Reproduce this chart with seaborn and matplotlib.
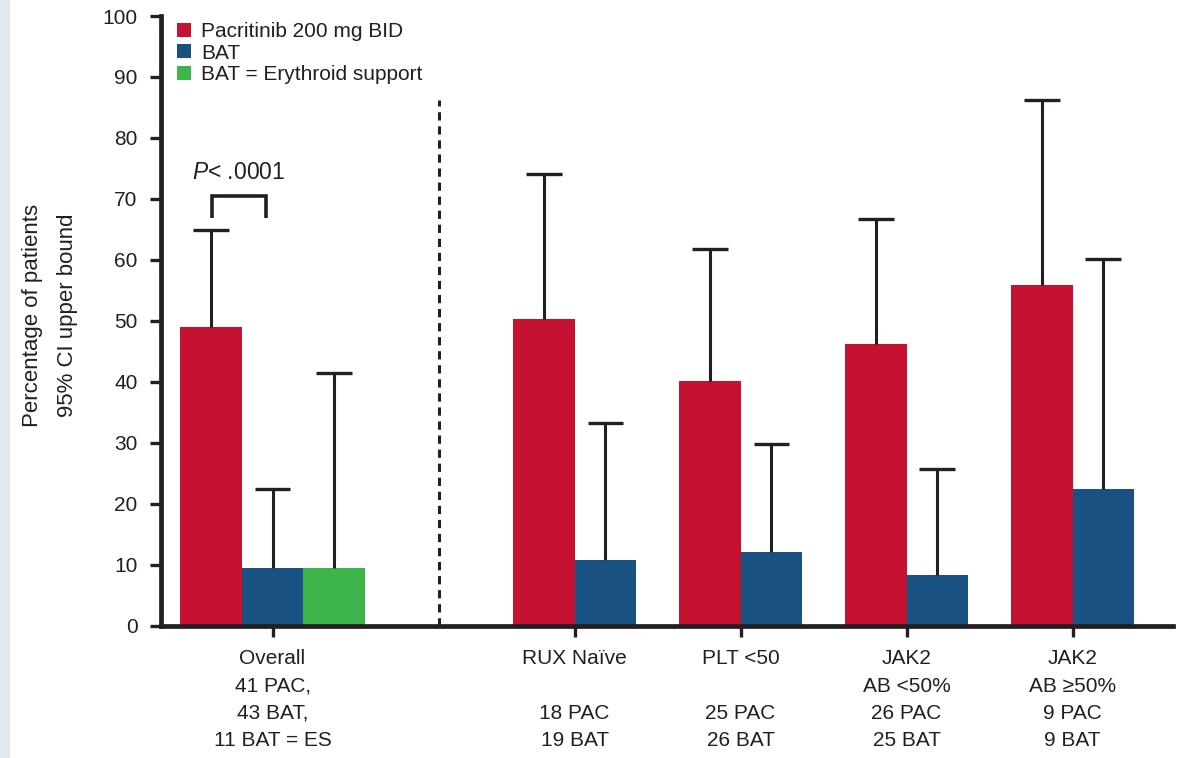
import matplotlib
matplotlib.use("Agg")
import matplotlib.pyplot as plt
from matplotlib.colors import to_hex
from matplotlib.patches import Patch, Rectangle
import numpy as np
import pandas as pd
import seaborn as sns

# ---- data -------------------------------------------------------------
group_labels = [
    "Overall\n41 PAC,\n43 BAT,\n11 BAT = ES",
    "RUX Naïve\n\n18 PAC\n19 BAT",
    "PLT <50\n\n25 PAC\n26 BAT",
    "JAK2\nAB <50%\n26 PAC\n25 BAT",
    "JAK2\nAB ≥50%\n9 PAC\n9 BAT",
]
arms = ["Pacritinib 200 mg BID", "BAT", "BAT = Erythroid support"]

pac_pct = [48.9, 50.3, 40.1, 46.2, 55.8]
pac_upper = [64.9, 74.0, 61.7, 66.7, 86.3]
bat_pct = [9.4, 10.7, 12.0, 8.3, 22.4]
bat_upper = [22.4, 33.3, 29.8, 25.7, 60.2]
es_pct = [9.4]
es_upper = [41.4]

p_value_text = r"$P$< .0001"
y_title = "Percentage of patients\n95% CI upper bound"

colors = {arms[0]: "#c41230", arms[1]: "#195282", arms[2]: "#3db54a"}
ink = "#231f20"

# ---- style ------------------------------------------------------------
sns.set_theme(style="white")
plt.rcParams["font.family"] = ["Liberation Sans", "DejaVu Sans"]
plt.rcParams["mathtext.fontset"] = "custom"
plt.rcParams["mathtext.it"] = "Liberation Sans:italic"
plt.rcParams["mathtext.rm"] = "Liberation Sans"
plt.rcParams["text.color"] = ink
plt.rcParams["axes.labelcolor"] = ink
plt.rcParams["xtick.color"] = ink
plt.rcParams["ytick.color"] = ink

# group centres on a numeric axis: Overall at 0, subgroups one unit apart
sub_offset = 1.82
positions = [0.0] + [sub_offset + k for k in range(len(group_labels) - 1)]
bar_w = 0.37

rows = []
for i, pos in enumerate(positions):
    rows.append((pos, arms[0], pac_pct[i], pac_upper[i]))
    rows.append((pos, arms[1], bat_pct[i], bat_upper[i]))
rows.append((positions[0], arms[2], es_pct[0], es_upper[0]))
df = pd.DataFrame(rows, columns=["pos", "arm", "pct", "upper"])

fig = plt.figure(figsize=(11.79, 7.58), dpi=100)
fig.patches.append(Rectangle((0, 0), 10 / 1179, 1, transform=fig.transFigure,
                             facecolor="#e2eaf1", edgecolor="none", zorder=0))
ax = fig.add_axes([161 / 1179, 132.5 / 758, 1012 / 1179, 609.5 / 758])

overall = df[df["pos"] == positions[0]]
subgroups = df[df["pos"] != positions[0]]

sns.barplot(data=overall, x="pos", y="pct", hue="arm", hue_order=arms,
            palette=colors, native_scale=True, width=3 * bar_w,
            errorbar=None, legend=False, saturation=1, linewidth=0, ax=ax)
sns.barplot(data=subgroups, x="pos", y="pct", hue="arm", hue_order=arms[:2],
            palette=colors, native_scale=True, width=2 * bar_w,
            errorbar=None, legend=False, saturation=1, linewidth=0, ax=ax)

# upper confidence bound whiskers, drawn up from each bar top
for patch in ax.patches:
    cx = patch.get_x() + patch.get_width() / 2
    h = patch.get_height()
    col = to_hex(patch.get_facecolor())
    cand = df[df["arm"].map(lambda a: to_hex(colors[a])) == col]
    row = cand.iloc[np.argmin(np.abs(cand["pos"].values - cx))]
    cw = 0.29 * patch.get_width()
    ax.plot([cx, cx], [h, row["upper"]], color=ink, lw=2.2,
            solid_capstyle="butt", zorder=1)
    ax.plot([cx - cw, cx + cw], [row["upper"], row["upper"]], color=ink,
            lw=2.4, solid_capstyle="butt", zorder=1)

# separator between the overall population and the subgroups
ax.plot([1.0, 1.0], [0, 86.3], color=ink, lw=2.2,
        linestyle=(0, (2.7, 1.9)), zorder=1)

# significance bracket between pacritinib and BAT (overall)
bl, br = -0.364, -0.039
ax.plot([bl, bl, br, br], [66.9, 70.5, 70.5, 66.9], color=ink, lw=2.6,
        solid_joinstyle="miter", solid_capstyle="butt")
ax.text(-0.203, 74.3, p_value_text, ha="center", va="center", fontsize=16.5)

# axes
ax.set_xlim(-0.672, 5.425)
ax.set_ylim(0, 100)
ax.set_yticks(np.arange(0, 101, 10))
ax.set_xticks(positions)
ax.set_xticklabels(group_labels, fontsize=15, linespacing=1.56, va="top")
ax.tick_params(axis="y", labelsize=15, length=8, width=2.4, pad=9,
               direction="out", left=True)
ax.tick_params(axis="x", length=8, width=2.4, pad=9, direction="out",
               bottom=True)
ax.set_xlabel("")
ax.set_ylabel("")
for side in ("top", "right"):
    ax.spines[side].set_visible(False)
for side in ("left", "bottom"):
    ax.spines[side].set_linewidth(3.4)
    ax.spines[side].set_color(ink)

fig.text(50 / 1179, 1 - 315 / 758, y_title, rotation=90, ha="center",
         va="center", fontsize=16, linespacing=1.9,
         family=["Liberation Sans Narrow", "Liberation Sans", "DejaVu Sans"])

handles = [Patch(facecolor=colors[a], edgecolor="none") for a in arms]
ax.legend(handles, arms, loc="upper left", bbox_to_anchor=(0.0158, 0.99),
          frameon=False, handlelength=0.65, handleheight=0.65,
          handletextpad=0.5, labelspacing=0.12, borderpad=0,
          borderaxespad=0, fontsize=15)

fig.savefig("out.png", dpi=100)
